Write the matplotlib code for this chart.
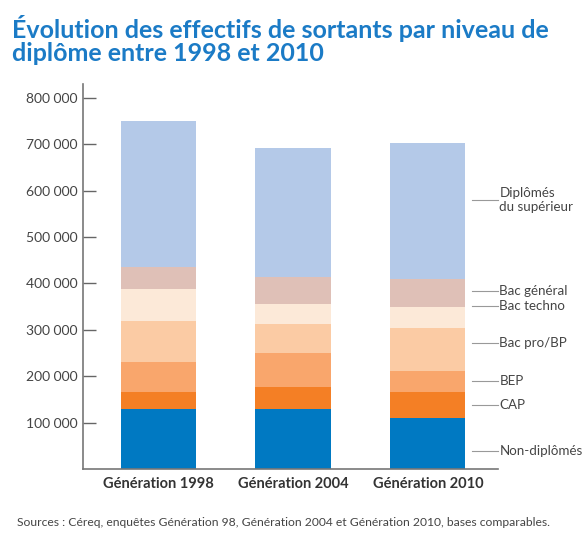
import matplotlib
matplotlib.use("Agg")
import matplotlib.pyplot as plt
from matplotlib.ticker import FuncFormatter

plt.rcParams['font.family'] = ['Lato', 'DejaVu Sans']

generations = ["Génération 1998", "Génération 2004", "Génération 2010"]
levels = ["Non-diplômés", "CAP", "BEP", "Bac pro/BP", "Bac techno", "Bac général",
          "Diplômés\ndu supérieur"]
non_diplomes = [129000, 129000, 110000]
cap = [37000, 48000, 56000]
bep = [65000, 74000, 46000]
bac_pro = [88000, 61000, 93000]
bac_techno = [70000, 44000, 44000]
bac_general = [47000, 57000, 61000]
superieur = [315000, 280000, 293000]
series = [non_diplomes, cap, bep, bac_pro, bac_techno, bac_general, superieur]
colors = ["#0079C2", "#F47F25", "#F9A66C", "#FBCBA4", "#FCE9D8", "#DFC0B7", "#B4C9E8"]
# y positions of the right-hand labels (leader lines)
label_y = [39000, 138000, 190000, 272000, 352000, 384000, 580000]
yticks = [100000, 200000, 300000, 400000, 500000, 600000, 700000, 800000]

fig = plt.figure(figsize=(5.84, 5.35), dpi=100)
ax = fig.add_axes([83/584, 1-469/535, (498-83)/584, (469-84)/535])

x = list(range(len(generations)))
bottom = [0]*len(generations)
for vals, col in zip(series, colors):
    ax.bar(x, vals, width=0.556, bottom=bottom, color=col, edgecolor='none')
    bottom = [b+v for b, v in zip(bottom, vals)]

ax.set_xlim(-0.556, 2.519)
ax.set_ylim(0, 830000)
ax.set_yticks(yticks)
ax.yaxis.set_major_formatter(FuncFormatter(lambda v, p: f"{int(v):,}".replace(",", " ")))
ax.set_xticks(x)
ax.set_xticklabels(generations, fontweight='bold', fontsize=10.5, color='#333333')
ax.tick_params(axis='x', length=0, pad=6)
ax.tick_params(axis='y', direction='in', length=9, width=1, color='#666666',
               labelsize=10, labelcolor='#444444', pad=4)
for s in ['top', 'right']:
    ax.spines[s].set_visible(False)
for s in ['left', 'bottom']:
    ax.spines[s].set_color('#777777')
    ax.spines[s].set_linewidth(1.2)

for lab, yv in zip(levels, label_y):
    ax.plot([2.326, 2.519], [yv, yv], color='#999999', lw=0.8, clip_on=False)
    ax.text(2.53, yv, lab, va='center', ha='left', fontsize=9.6, color='#444444',
            clip_on=False, linespacing=1.2)

fig.text(12/584, 1-15/535, "Évolution des effectifs de sortants par niveau de\ndiplôme entre 1998 et 2010",
         ha='left', va='top', fontsize=18, fontweight='bold', color='#1B7BC6',
         linespacing=1.0)
fig.text(17/584, 1-523/535,
         "Sources : Céreq, enquêtes Génération 98, Génération 2004 et Génération 2010, bases comparables.",
         ha='left', va='center', fontsize=8.7, color='#444444')

fig.savefig("out.png", dpi=100)
